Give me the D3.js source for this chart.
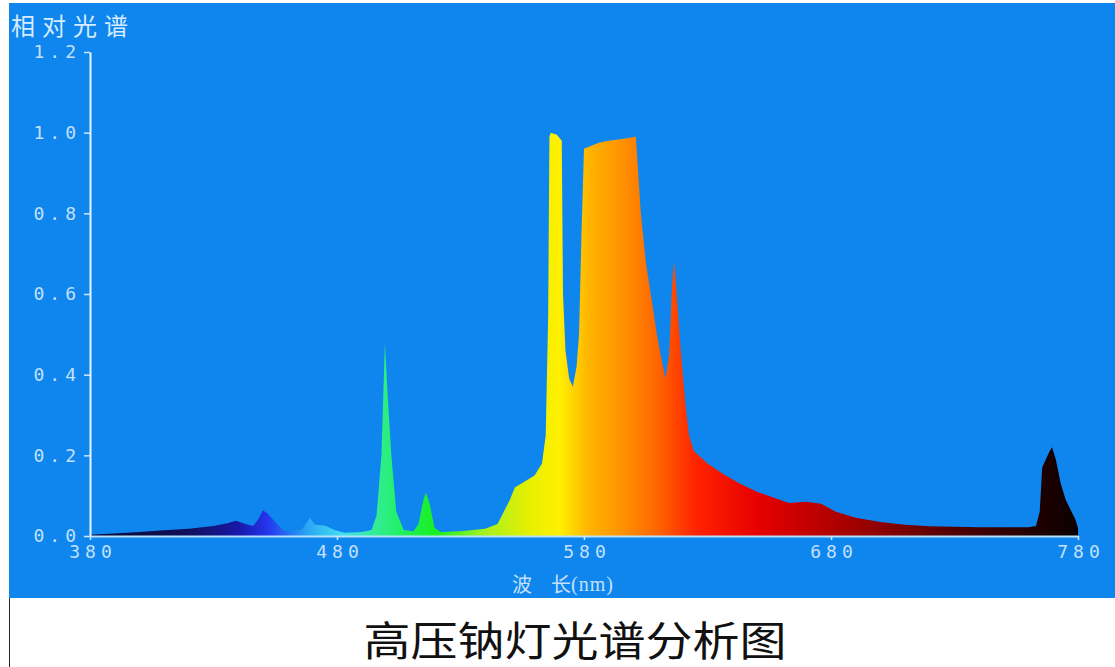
<!DOCTYPE html>
<html>
<head>
<meta charset="utf-8">
<script src="https://cdn.jsdelivr.net/npm/d3@7"></script>
<style>
  body { margin: 0; background: #fff; }
  svg { display: block; }
  .tick text { font-family: "DejaVu Sans Mono", monospace; }
</style>
</head>
<body>
<div id="main"></div>
<script>
///////////
// DATA  //
///////////

// wavelength (nm) and relative spectrum
const wavelengths = [
  380, 390, 400, 410, 420, 430, 436, 439, 443, 446, 448, 450, 452, 455, 458,
  462, 466, 469, 471, 475, 479, 483, 490, 494, 496, 498, 499.4, 500.5, 502, 504,
  507, 511, 513, 515, 516, 517.5, 519.5, 522, 530, 540, 545, 550, 552, 556, 560,
  563, 564.5, 565.5, 566, 566.5, 569, 571, 571.5, 572.5, 574, 575.5, 577, 578, 579,
  580, 582, 586, 590, 596, 601, 603, 605, 607, 609.5, 611, 613, 614.5, 615.5, 616,
  616.5, 617.5, 619, 621, 622.5, 624.5, 630, 636, 643, 650, 656, 663, 670, 676,
  682, 690, 700, 710, 720, 740, 760, 763, 764.5, 765.5, 767, 768.5, 769.5, 771,
  773, 775, 777, 779, 780
]
const intensity = [
  0.003, 0.006, 0.010, 0.014, 0.018, 0.025, 0.032, 0.038, 0.030, 0.025, 0.040, 0.064, 0.055, 0.035, 0.015,
  0.010, 0.018, 0.045, 0.028, 0.026, 0.015, 0.008, 0.010, 0.015, 0.050, 0.200, 0.480, 0.350, 0.200, 0.060,
  0.015, 0.012, 0.030, 0.090, 0.107, 0.080, 0.020, 0.010, 0.012, 0.018, 0.030, 0.090, 0.120, 0.135, 0.150,
  0.180, 0.250, 0.550, 0.990, 1.000, 0.995, 0.980, 0.600, 0.460, 0.390, 0.370, 0.420, 0.500, 0.750,
  0.960, 0.965, 0.975, 0.980, 0.985, 0.990, 0.800, 0.680, 0.600, 0.500, 0.450, 0.390, 0.450, 0.600, 0.650,
  0.680, 0.600, 0.470, 0.330, 0.250, 0.210, 0.180, 0.155, 0.130, 0.110, 0.097, 0.082, 0.085, 0.080,
  0.060, 0.045, 0.035, 0.028, 0.024, 0.022, 0.022, 0.025, 0.060, 0.170, 0.190, 0.210, 0.220, 0.190,
  0.130, 0.090, 0.065, 0.040, 0.020
]

const x_ticks = [380, 480, 580, 680, 780]
const y_ticks = [0, 0.2, 0.4, 0.6, 0.8, 1.0, 1.2]

// spectral colours used for the fill
const color_nm   = [380, 420, 440, 452, 468, 482, 495, 505, 520, 540, 558, 570, 582, 596, 610, 625, 650, 690, 725, 760, 780]
const color_hex  = ["#0a0a2e", "#10105a", "#1818a8", "#2436ee", "#2aa6f4", "#44e0f0", "#34ec98", "#22f068", "#18f020",
                    "#a8f020", "#e6f000", "#fff000", "#ffb400", "#ff9000", "#ff6400", "#ff2400", "#e80000",
                    "#a00000", "#5a0000", "#240000", "#0a0000"]

const y_title = "相对光谱"
const x_title = ["波", "长"]
const x_unit  = "(nm)"
const chart_title = "高压钠灯光谱分析图"

///////////
// SETUP //
///////////

const width = 1115
const height = 667

const x = d3.scaleLinear().domain([380, 780]).range([90, 1078])
const y = d3.scaleLinear().domain([0, 1.2]).range([536, 52])

const spectrum = wavelengths.map((w, i) => [w, intensity[i]])

const area = d3.area()
    .x(d => x(d[0]))
    .y0(y(0))
    .y1(d => y(d[1]))

//////////
// DRAW //
//////////

const svg = d3.select("#main").append("svg")
    .attr("width", width)
    .attr("height", height)

// blue panel
svg.append("rect")
    .attr("x", 9).attr("y", 3)
    .attr("width", width - 9).attr("height", 595)
    .attr("fill", "#0f86ee")

svg.append("line")
    .attr("x1", 9.5).attr("x2", 9.5)
    .attr("y1", 598).attr("y2", height)
    .attr("stroke", "#222").attr("stroke-width", 1)

// gradient
const grad = svg.append("defs").append("linearGradient")
    .attr("id", "spec")
    .attr("gradientUnits", "userSpaceOnUse")
    .attr("x1", x(380)).attr("x2", x(780))
    .attr("y1", 0).attr("y2", 0)

color_nm.forEach((w, i) => {
    grad.append("stop")
        .attr("offset", (w - 380) / 400)
        .attr("stop-color", color_hex[i])
})

svg.append("path")
    .datum(spectrum)
    .attr("d", area)
    .attr("fill", "url(#spec)")

// axes
const y_axis = svg.append("g")
    .attr("transform", `translate(${x(380)},0)`)
    .call(d3.axisLeft(y)
        .tickValues(y_ticks)
        .tickFormat(d3.format(".1f"))
        .tickSize(6)
        .tickSizeOuter(0)
        .tickPadding(6))

const x_axis = svg.append("g")
    .attr("transform", `translate(0,${y(0)})`)
    .call(d3.axisBottom(x)
        .tickValues(x_ticks)
        .tickSize(4)
        .tickSizeOuter(0)
        .tickPadding(5))

y_axis.select(".domain").attr("stroke", "#eaf6ff").attr("stroke-width", 2)
x_axis.select(".domain").attr("stroke", "#b8e2ff").attr("stroke-width", 2)

svg.selectAll(".tick line").attr("stroke", "#cfe8ff").attr("stroke-width", 1.5)
svg.selectAll(".tick text")
    .attr("fill", "#c4e0fc")
    .attr("font-size", 18)
    .attr("letter-spacing", 5)

y_axis.selectAll(".tick text").attr("dx", 3)
x_axis.selectAll(".tick text").attr("dx", 2.5)

// titles
svg.append("text")
    .attr("x", 11).attr("y", 24)
    .attr("dominant-baseline", "central")
    .attr("font-family", "'Noto Sans CJK SC', sans-serif")
    .attr("font-size", 24)
    .attr("letter-spacing", 7)
    .attr("fill", "#d6ecff")
    .text(y_title)

const x_label = svg.append("g")
    .attr("fill", "#c4e0fc")
    .attr("font-family", "'Noto Sans CJK SC', sans-serif")
    .attr("font-size", 20)

x_label.append("text").attr("x", 512).attr("y", 583)
    .attr("dominant-baseline", "central").text(x_title[0])
x_label.append("text").attr("x", 551).attr("y", 583)
    .attr("dominant-baseline", "central").text(x_title[1])
x_label.append("text").attr("x", 571).attr("y", 584)
    .attr("dominant-baseline", "central")
    .attr("font-family", "'Liberation Serif', serif")
    .attr("font-size", 20)
    .attr("letter-spacing", 1)
    .text(x_unit)

svg.append("text")
    .attr("transform", "translate(575,638) scale(1,0.86)")
    .attr("text-anchor", "middle")
    .attr("dominant-baseline", "central")
    .attr("font-family", "'Noto Sans CJK SC', sans-serif")
    .attr("font-size", 47)
    .attr("fill", "#111")
    .text(chart_title)
</script>
</body>
</html>
